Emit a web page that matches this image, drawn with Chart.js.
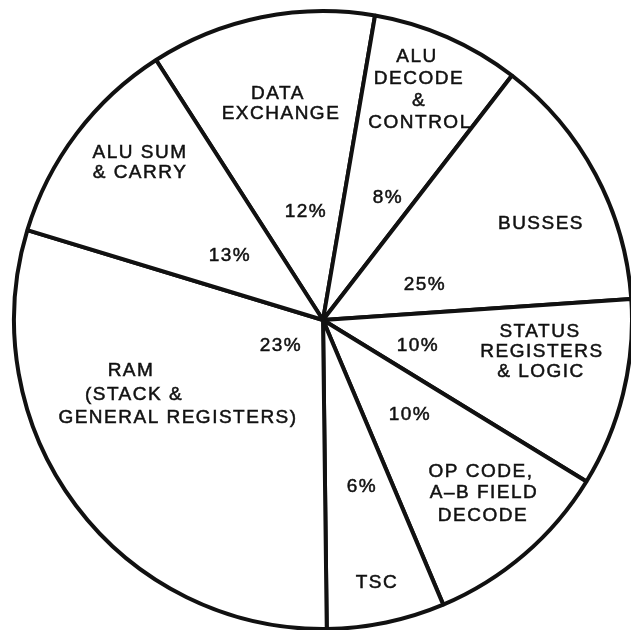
<!DOCTYPE html>
<html>
<head>
<meta charset="utf-8">
<script src="https://cdn.jsdelivr.net/npm/chart.js@4.4.1/dist/chart.umd.min.js"></script>
<style>
html, body { margin: 0; padding: 0; background: #fff; overflow: hidden; }
canvas { display: block; }
</style>
</head>
<body>
<canvas id="chart" width="631" height="630"></canvas>
<script>
// --- Data (clockwise, starting at the ALU SUM / DATA EXCHANGE edge) ---
const categories = [
  'DATA EXCHANGE',
  'ALU DECODE & CONTROL',
  'BUSSES',
  'STATUS REGISTERS & LOGIC',
  'OP CODE, A–B FIELD DECODE',
  'TSC',
  'RAM (STACK & GENERAL REGISTERS)',
  'ALU SUM & CARRY'
];
const nameLines = [
  ['DATA', 'EXCHANGE'],
  ['ALU', 'DECODE', '&', 'CONTROL'],
  ['BUSSES'],
  ['STATUS', 'REGISTERS', '& LOGIC'],
  ['OP CODE,', 'A–B FIELD', 'DECODE'],
  ['TSC'],
  ['RAM', '(STACK &', 'GENERAL REGISTERS)'],
  ['ALU SUM', '& CARRY']
];
const percentLabels = ['12%', '8%', '25%', '10%', '10%', '6%', '23%', '13%'];
// the printed numbers add up to 107% and the wedges don't follow them,
// so slice sizes are the arc angles (degrees)
const sliceDegrees = [42.4, 28.0, 48.4, 35.4, 35.6, 22.2, 107.6, 40.4];
const firstEdgeDeg = -32.7;

// --- Label placement, px from the pie centre ---
const nameSpots = [
  [[-46, -226], [-43, -206]],
  [[93, -263], [95, -241], [95, -219], [96, -197]],
  [[217, -96]],
  [[216, 12], [218, 32], [217, 52]],
  [[157, 152], [160, 173], [159, 196]],
  [[53, 263]],
  [[-193, 51], [-190, 75], [-146, 98]],
  [[-184, -167], [-184, -147]]
];
const percentSpots = [
  [-18, -108], [64, -122], [101, -35], [94, 26],
  [86, 95], [38, 167], [-43, 26], [-94, -64]
];

const sliceLabels = {
  id: 'sliceLabels',
  afterDatasetsDraw(chart) {
    const arc = chart.getDatasetMeta(0).data[0];
    const cx = arc.x, cy = arc.y;
    const ctx = chart.ctx;
    ctx.save();
    ctx.fillStyle = '#111';
    ctx.strokeStyle = '#111';
    ctx.lineWidth = 0.5;
    ctx.font = '19px "Liberation Sans", Arial, sans-serif';
    ctx.letterSpacing = '1.5px';
    ctx.textAlign = 'center';
    ctx.textBaseline = 'middle';
    const put = (t, dx, dy) => {
      ctx.fillText(t, cx + dx + 1, cy + dy);
      ctx.strokeText(t, cx + dx + 1, cy + dy);
    };
    nameLines.forEach((lines, i) => {
      lines.forEach((t, j) => put(t, nameSpots[i][j][0], nameSpots[i][j][1]));
    });
    percentLabels.forEach((t, i) => put(t, percentSpots[i][0], percentSpots[i][1]));
    ctx.restore();
  }
};

new Chart(document.getElementById('chart'), {
  type: 'pie',
  data: {
    labels: categories,
    datasets: [{
      data: sliceDegrees,
      backgroundColor: '#fff',
      borderColor: '#111',
      borderWidth: 4,
      clip: false
    }]
  },
  options: {
    responsive: false,
    animation: false,
    rotation: firstEdgeDeg,
    radius: 309,
    layout: { padding: { left: 15, top: 10 } },
    plugins: { legend: { display: false }, tooltip: { enabled: false } }
  },
  plugins: [sliceLabels]
});
</script>
</body>
</html>
